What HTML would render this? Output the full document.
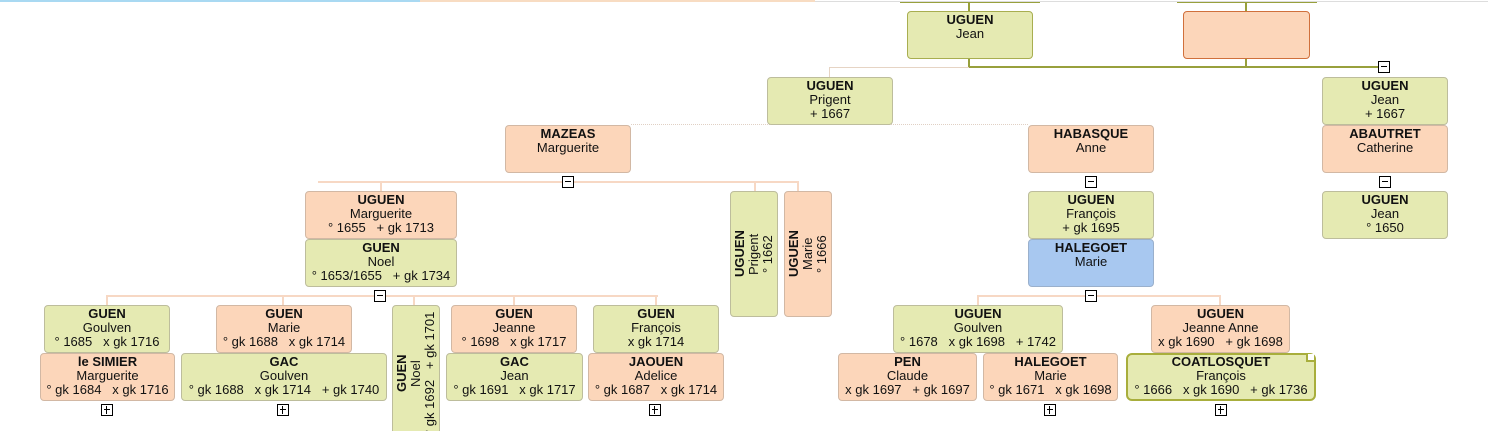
<!DOCTYPE html>
<html><head><meta charset="utf-8"><style>
html,body{margin:0;width:1488px;height:431px;overflow:hidden;background:#fff;position:relative;font-family:"Liberation Sans",Arial,sans-serif;}
.b{position:absolute;box-sizing:border-box;border:1px solid #bdbd9c;border-radius:4px;font-size:13px;line-height:14px;text-align:center;padding-top:1px;color:#111;white-space:pre;overflow:hidden}
.g{background:#e5eab2}
.p{background:#fcd6ba;border-color:#d2b8a4}
.bl{background:#a8c8f0;border-color:#9ab0cc}
.b b{font-weight:bold}
.v{writing-mode:vertical-rl;transform:rotate(180deg);padding:0;display:flex;align-items:center;justify-content:center}
.l{position:absolute;background:#f7d8c4}
.o{position:absolute;background:#98a03c}
.m{position:absolute;width:12px;height:12px;border:1px solid #000;background:#fff;box-sizing:border-box}
.m::after{content:"";position:absolute;left:2px;top:4px;width:6px;height:1px;background:#000}
.pl::before{content:"";position:absolute;left:4px;top:1px;width:1px;height:8px;background:#000}
</style></head><body>
<div style="position:absolute;left:0;top:0;width:420px;height:2px;background:#a9d9f2"></div>
<div style="position:absolute;left:420px;top:0;width:395px;height:2px;background:#f8dcc2"></div>
<div style="position:absolute;left:815px;top:1px;width:673px;height:1px;background:#ddd"></div>

<div class="o" style="left:900px;top:2px;width:140px;height:1px"></div>
<div class="o" style="left:1177px;top:2px;width:140px;height:1px"></div>
<div class="o" style="left:968px;top:2px;width:2px;height:10px"></div>
<div class="o" style="left:1245px;top:2px;width:2px;height:10px"></div>
<div class="o" style="left:968px;top:58px;width:2px;height:10px"></div>
<div class="o" style="left:1245px;top:58px;width:2px;height:10px"></div>
<div class="o" style="left:968px;top:66px;width:412px;height:2px"></div>
<div class="l" style="left:829px;top:67px;width:140px;height:1px;background:#e6d4c4"></div>
<div class="l" style="left:829px;top:67px;width:1px;height:10px;background:#e6d4c4"></div>
<div style="position:absolute;left:631px;top:124px;width:397px;border-top:1px dotted #e0d0c4"></div>

<div class="b g" style="left:907px;top:11px;width:126px;height:48px;border-color:#a8ae50"><b>UGUEN</b>
Jean</div>
<div class="b p" style="left:1183px;top:11px;width:127px;height:48px;border-color:#d0703c"></div>
<div class="m" style="left:1378px;top:61px"></div>

<div class="b g" style="left:767px;top:77px;width:126px;height:48px"><b>UGUEN</b>
Prigent
+ 1667</div>
<div class="b g" style="left:1322px;top:77px;width:126px;height:48px"><b>UGUEN</b>
Jean
+ 1667</div>
<div class="b p" style="left:1322px;top:125px;width:126px;height:48px"><b>ABAUTRET</b>
Catherine</div>
<div class="m" style="left:1379px;top:176px"></div>
<div class="b g" style="left:1322px;top:191px;width:126px;height:48px"><b>UGUEN</b>
Jean
° 1650</div>

<div class="b p" style="left:505px;top:125px;width:126px;height:48px"><b>MAZEAS</b>
Marguerite</div>
<div class="l" style="left:318px;top:181px;width:480px;height:2px"></div>
<div class="l" style="left:380px;top:181px;width:2px;height:10px"></div>
<div class="l" style="left:754px;top:181px;width:2px;height:10px"></div>
<div class="l" style="left:797px;top:181px;width:2px;height:10px"></div>
<div class="m" style="left:562px;top:176px"></div>

<div class="b p" style="left:1028px;top:125px;width:126px;height:48px"><b>HABASQUE</b>
Anne</div>
<div class="m" style="left:1085px;top:176px"></div>
<div class="b g" style="left:1028px;top:191px;width:126px;height:48px"><b>UGUEN</b>
François
+ gk 1695</div>
<div class="b bl" style="left:1028px;top:239px;width:126px;height:48px"><b>HALEGOET</b>
Marie</div>
<div class="l" style="left:977px;top:295px;width:244px;height:2px"></div>
<div class="l" style="left:977px;top:295px;width:2px;height:10px"></div>
<div class="l" style="left:1219px;top:295px;width:2px;height:10px"></div>
<div class="m" style="left:1085px;top:290px"></div>

<div class="b p" style="left:305px;top:191px;width:152px;height:48px"><b>UGUEN</b>
Marguerite
° 1655   + gk 1713</div>
<div class="b g" style="left:305px;top:239px;width:152px;height:48px"><b>GUEN</b>
Noel
° 1653/1655   + gk 1734</div>
<div class="l" style="left:106px;top:295px;width:552px;height:2px"></div>
<div class="l" style="left:106px;top:295px;width:2px;height:10px"></div>
<div class="l" style="left:282px;top:295px;width:2px;height:10px"></div>
<div class="l" style="left:413px;top:295px;width:2px;height:10px"></div>
<div class="l" style="left:513px;top:295px;width:2px;height:10px"></div>
<div class="l" style="left:655px;top:295px;width:2px;height:10px"></div>
<div class="m" style="left:374px;top:290px"></div>

<div class="b g v" style="left:730px;top:191px;width:48px;height:126px"><span><b>UGUEN</b>
Prigent
° 1662</span></div>
<div class="b p v" style="left:784px;top:191px;width:48px;height:126px"><span><b>UGUEN</b>
Marie
° 1666</span></div>

<div class="b g" style="left:44px;top:305px;width:126px;height:48px"><b>GUEN</b>
Goulven
° 1685   x gk 1716</div>
<div class="b p" style="left:40px;top:353px;width:135px;height:48px"><b>le SIMIER</b>
Marguerite
° gk 1684   x gk 1716</div>
<div class="m pl" style="left:101px;top:404px"></div>

<div class="b p" style="left:216px;top:305px;width:136px;height:48px"><b>GUEN</b>
Marie
° gk 1688   x gk 1714</div>
<div class="b g" style="left:181px;top:353px;width:206px;height:48px"><b>GAC</b>
Goulven
° gk 1688   x gk 1714   + gk 1740</div>
<div class="m pl" style="left:277px;top:404px"></div>

<div class="b g v" style="left:392px;top:305px;width:48px;height:137px"><span><b>GUEN</b>
Noel
° gk 1692   + gk 1701</span></div>

<div class="b p" style="left:451px;top:305px;width:126px;height:48px"><b>GUEN</b>
Jeanne
° 1698   x gk 1717</div>
<div class="b g" style="left:446px;top:353px;width:137px;height:48px"><b>GAC</b>
Jean
° gk 1691   x gk 1717</div>

<div class="b g" style="left:593px;top:305px;width:126px;height:48px"><b>GUEN</b>
François
x gk 1714</div>
<div class="b p" style="left:588px;top:353px;width:136px;height:48px"><b>JAOUEN</b>
Adelice
° gk 1687   x gk 1714</div>
<div class="m pl" style="left:649px;top:404px"></div>

<div class="b g" style="left:893px;top:305px;width:170px;height:48px"><b>UGUEN</b>
Goulven
° 1678   x gk 1698   + 1742</div>
<div class="b p" style="left:838px;top:353px;width:139px;height:48px"><b>PEN</b>
Claude
x gk 1697   + gk 1697</div>
<div class="b p" style="left:983px;top:353px;width:135px;height:48px"><b>HALEGOET</b>
Marie
° gk 1671   x gk 1698</div>
<div class="m pl" style="left:1044px;top:404px"></div>

<div class="b p" style="left:1151px;top:305px;width:139px;height:48px"><b>UGUEN</b>
Jeanne Anne
x gk 1690   + gk 1698</div>
<div class="b g" style="left:1126px;top:353px;width:190px;height:48px;border:2px solid #a8ae3c;border-radius:6px;padding-top:0"><b>COATLOSQUET</b>
François
° 1666   x gk 1690   + gk 1736</div>
<div style="position:absolute;left:1306px;top:354px;width:6px;height:6px;background:#fff;border-left:2px solid #a8ae3c;border-bottom:2px solid #a8ae3c"></div>
<div class="m pl" style="left:1215px;top:404px"></div>
</body></html>
